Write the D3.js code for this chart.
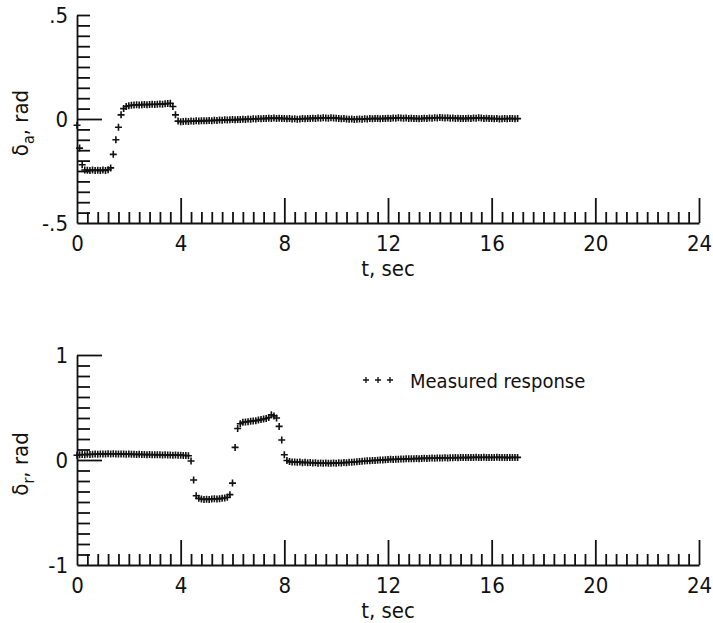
<!DOCTYPE html>
<html>
<head>
<meta charset="UTF-8">
<script src="https://cdn.jsdelivr.net/npm/d3@7.8.5/dist/d3.min.js"></script>
<style>
  body { margin: 0; background: #fff; }
  svg { display: block; }
  text { font-family: "Liberation Sans Narrow", "DejaVu Sans Condensed", "DejaVu Sans", sans-serif; fill: #111; }
  .tick line, .domain { stroke: #111; stroke-width: 1.8; }
</style>
</head>
<body>
<div id="chart"></div>
<script>
// sample step of the recorded data (sec)
const sampleDt = 0.1;

// aileron deflection, rad, t = 0 ... 17 s
const deltaA = [
  -0.03, -0.14, -0.22, -0.245, -0.246, -0.248, -0.245, -0.247, -0.246, -0.248,
  -0.245, -0.247, -0.244, -0.235, -0.17, -0.10, -0.04, 0.02, 0.05, 0.06,
  0.064, 0.066, 0.067, 0.068, 0.067, 0.069, 0.07, 0.069, 0.07, 0.071,
  0.07, 0.071, 0.072, 0.071, 0.073, 0.074, 0.076, 0.06, 0.02, -0.01,
  -0.013, -0.012, -0.011, -0.012, -0.01, -0.011, -0.009, -0.01, -0.008, -0.009,
  -0.008, -0.007, -0.008, -0.006, -0.007, -0.005, -0.006, -0.004, -0.005, -0.004,
  -0.003, -0.004, -0.002, -0.003, -0.001, -0.002, 0.0, -0.001, 0.001, 0.0,
  0.002, 0.001, 0.003, 0.002, 0.004, 0.003, 0.005, 0.003, 0.004, 0.002,
  0.003, 0.001, 0.002, 0.0, 0.001, -0.001, 0.0, 0.002, 0.001, 0.003,
  0.002, 0.004, 0.003, 0.005, 0.004, 0.006, 0.005, 0.004, 0.006, 0.005,
  0.004, 0.003, 0.001, 0.002, 0.0, -0.001, 0.0, -0.002, -0.001, 0.0,
  -0.001, 0.001, 0.0, 0.002, 0.001, 0.003, 0.002, 0.001, 0.003, 0.002,
  0.004, 0.003, 0.005, 0.004, 0.006, 0.005, 0.004, 0.005, 0.003, 0.004,
  0.002, 0.003, 0.001, 0.002, 0.004, 0.003, 0.005, 0.004, 0.006, 0.005,
  0.007, 0.006, 0.005, 0.006, 0.004, 0.005, 0.003, 0.004, 0.002, 0.003,
  0.002, 0.004, 0.003, 0.005, 0.004, 0.006, 0.005, 0.003, 0.004, 0.002,
  0.003, 0.001, 0.002, 0.0, 0.001, 0.002, 0.001, 0.003, 0.002, 0.001,
  0.002
];

// rudder deflection, rad, t = 0 ... 17 s
const deltaR = [
  0.045, 0.05, 0.052, 0.05, 0.054, 0.052, 0.055, 0.057, 0.055, 0.058,
  0.056, 0.058, 0.06, 0.058, 0.059, 0.057, 0.058, 0.056, 0.057, 0.055,
  0.056, 0.054, 0.055, 0.053, 0.054, 0.052, 0.053, 0.051, 0.052, 0.05,
  0.051, 0.049, 0.05, 0.048, 0.049, 0.047, 0.048, 0.046, 0.047, 0.045,
  0.046, 0.044, 0.043, 0.04, -0.01, -0.19, -0.34, -0.365, -0.372, -0.375,
  -0.373, -0.375, -0.372, -0.37, -0.371, -0.368, -0.365, -0.362, -0.355, -0.33,
  -0.22, 0.12, 0.3, 0.345, 0.36, 0.362, 0.365, 0.37, 0.372, 0.375,
  0.38, 0.385, 0.39, 0.395, 0.405, 0.43, 0.42, 0.4, 0.32, 0.19,
  0.05, -0.005, -0.015, -0.02, -0.018, -0.022, -0.02, -0.025, -0.022, -0.026,
  -0.024, -0.028, -0.026, -0.03, -0.028, -0.031, -0.029, -0.032, -0.03, -0.028,
  -0.03, -0.027, -0.028, -0.024, -0.025, -0.021, -0.022, -0.018, -0.017, -0.014,
  -0.012, -0.01, -0.008, -0.007, -0.005, -0.004, -0.002, 0.0, 0.001, 0.003,
  0.004, 0.006, 0.005, 0.007, 0.008, 0.01, 0.009, 0.011, 0.012, 0.011,
  0.013, 0.014, 0.013, 0.015, 0.016, 0.015, 0.017, 0.018, 0.017, 0.019,
  0.02, 0.019, 0.021, 0.02, 0.022, 0.021, 0.023, 0.022, 0.024, 0.023,
  0.024, 0.023, 0.025, 0.024, 0.026, 0.025, 0.024, 0.026, 0.025, 0.024,
  0.025, 0.024, 0.026, 0.025, 0.024, 0.025, 0.023, 0.024, 0.025, 0.024,
  0.025
];

// tick labels
const xLabelTicks = [0, 4, 8, 12, 16, 20, 24];
const xMinorStep = 0.4;
const yTicksA = [-0.5, 0, 0.5];
const yTicksR = [-1, 0, 1];

const W = 713, H = 623;
const svg = d3.select('#chart').append('svg')
  .attr('width', W).attr('height', H);

const crossPath = s => `M${-s},0H${s}M0,${-s}V${s}`;

function panel(cfg) {
  const x = d3.scaleLinear().domain([0, 24]).range([77, 699]);
  const y = d3.scaleLinear().domain(cfg.domain).range([cfg.bottom, cfg.top]);
  const g = svg.append('g');

  const minorX = d3.range(xMinorStep, 24, xMinorStep).filter(v => Math.abs(v / 4 - Math.round(v / 4)) > 1e-6);
  const majorX = xLabelTicks.filter(v => v > 0);

  // x axis line + labels
  g.append('g')
    .attr('transform', `translate(0,${cfg.bottom})`)
    .call(d3.axisBottom(x).tickValues(xLabelTicks).tickSize(0).tickSizeOuter(0).tickPadding(12)
      .tickFormat(d3.format('d')))
    .call(a => a.selectAll('text').style('font-size', '22px'));

  // x tick marks pointing up
  g.append('g')
    .attr('transform', `translate(0,${cfg.bottom})`)
    .call(d3.axisTop(x).tickValues(minorX).tickSize(11).tickFormat(''))
    .call(a => a.select('.domain').remove());
  g.append('g')
    .attr('transform', `translate(0,${cfg.bottom})`)
    .call(d3.axisTop(x).tickValues(majorX).tickSize(25).tickFormat(''))
    .call(a => a.select('.domain').remove());

  // y axis line + labels
  g.append('g')
    .attr('transform', 'translate(77,0)')
    .call(d3.axisLeft(y).tickValues(cfg.labelTicks).tickSize(0).tickSizeOuter(0).tickPadding(9)
      .tickFormat(cfg.fmt))
    .call(a => a.selectAll('text').style('font-size', '22px'));

  const minorY = d3.range(cfg.domain[0] + cfg.yStep, cfg.domain[1] + cfg.yStep / 2, cfg.yStep)
    .filter(v => cfg.longY.every(l => Math.abs(v - l) > 1e-6));
  g.append('g')
    .attr('transform', 'translate(77,0)')
    .call(d3.axisRight(y).tickValues(minorY).tickSize(13).tickFormat(''))
    .call(a => a.select('.domain').remove());
  g.append('g')
    .attr('transform', 'translate(77,0)')
    .call(d3.axisRight(y).tickValues(cfg.longY).tickSize(25).tickFormat(''))
    .call(a => a.select('.domain').remove());

  // data markers
  g.append('g').selectAll('path')
    .data(cfg.values)
    .join('path')
    .attr('transform', (d, i) => `translate(${x(i * sampleDt)},${y(d)})`)
    .attr('d', crossPath(3.5))
    .attr('stroke', '#111')
    .attr('stroke-width', 1.6)
    .attr('fill', 'none');

  // axis titles
  g.append('text')
    .attr('x', x(12)).attr('y', cfg.bottom + 53)
    .attr('text-anchor', 'middle')
    .style('font-size', '22px')
    .text('t,  sec');

  const yt = g.append('text')
    .attr('transform', `translate(28,${(cfg.top + cfg.bottom) / 2 + 4}) rotate(-90)`)
    .attr('text-anchor', 'middle')
    .style('font-size', '22px');
  yt.append('tspan').text('δ');
  yt.append('tspan').attr('dy', 6).style('font-size', '16px').text(cfg.sub);
  yt.append('tspan').attr('dy', -6).text(',  rad');

  return { x, y, g };
}

const fmtA = d => d === 0 ? '0' : (d > 0 ? '.5' : '-.5');
const fmtR = d => d < 0 ? '-' + Math.abs(d) : String(d);

panel({ values: deltaA, domain: [-0.5, 0.5], top: 15, bottom: 223, yStep: 0.05,
  longY: [0], labelTicks: yTicksA, fmt: fmtA, sub: 'a' });

panel({ values: deltaR, domain: [-1, 1], top: 355, bottom: 565, yStep: 0.1,
  longY: [0, 1], labelTicks: yTicksR, fmt: fmtR, sub: 'r' });

// legend
const lg = svg.append('g');
[366, 378, 390].forEach(cx => {
  lg.append('path')
    .attr('transform', `translate(${cx},380)`)
    .attr('d', crossPath(3))
    .attr('stroke', '#111').attr('stroke-width', 1.3);
});
lg.append('text')
  .attr('x', 410).attr('y', 388)
  .style('font-size', '20px')
  .text('Measured response');
</script>
</body>
</html>
